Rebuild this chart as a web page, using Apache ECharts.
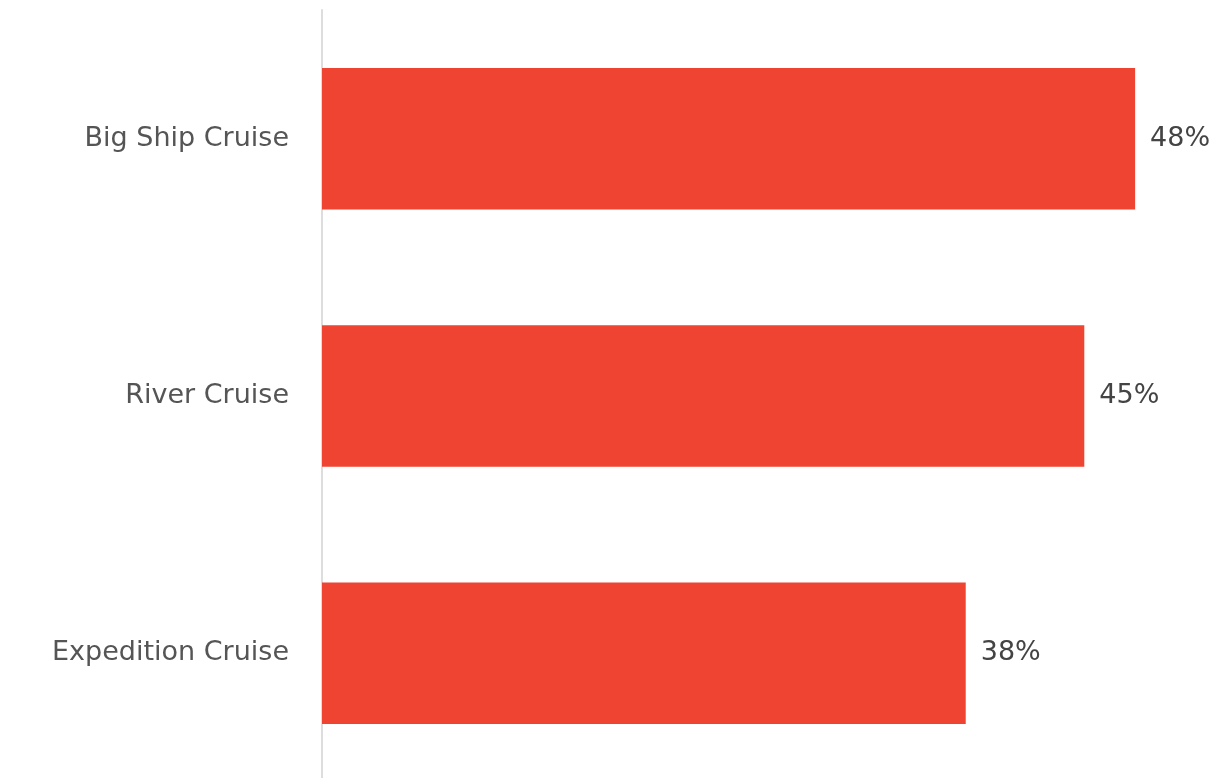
<!DOCTYPE html>
<html>
<head>
<meta charset="utf-8">
<script src="https://cdn.jsdelivr.net/npm/echarts@6/dist/echarts.min.js"></script>
<style>
  html, body { margin: 0; padding: 0; background: #fff; }
  #chart { width: 1220px; height: 778px; }
</style>
</head>
<body>
<div id="chart"></div>
<script>
const categories = ['Big Ship Cruise', 'River Cruise', 'Expedition Cruise'];
const shares = [48, 45, 38];

const chart = echarts.init(document.getElementById('chart'));
chart.setOption({
  animation: false,
  grid: {
    left: 322,
    top: 10,
    width: 847,
    height: 772,
    outerBoundsMode: 'none'
  },
  xAxis: {
    type: 'value',
    min: 0,
    max: 50,
    show: false
  },
  yAxis: {
    type: 'category',
    inverse: true,
    data: categories,
    axisLine: { show: true, lineStyle: { color: '#dddddd', width: 2 } },
    axisTick: { show: false },
    axisLabel: {
      margin: 33,
      color: '#555555',
      fontSize: 27,
      fontFamily: 'DejaVu Sans'
    }
  },
  series: [
    {
      type: 'bar',
      data: shares,
      barCategoryGap: '45%',
      itemStyle: { color: '#ee4431' },
      label: {
        show: true,
        position: 'right',
        distance: 15,
        color: '#444444',
        fontSize: 27,
        fontFamily: 'DejaVu Sans',
        formatter: p => p.value + '%'
      }
    }
  ]
});
</script>
</body>
</html>
